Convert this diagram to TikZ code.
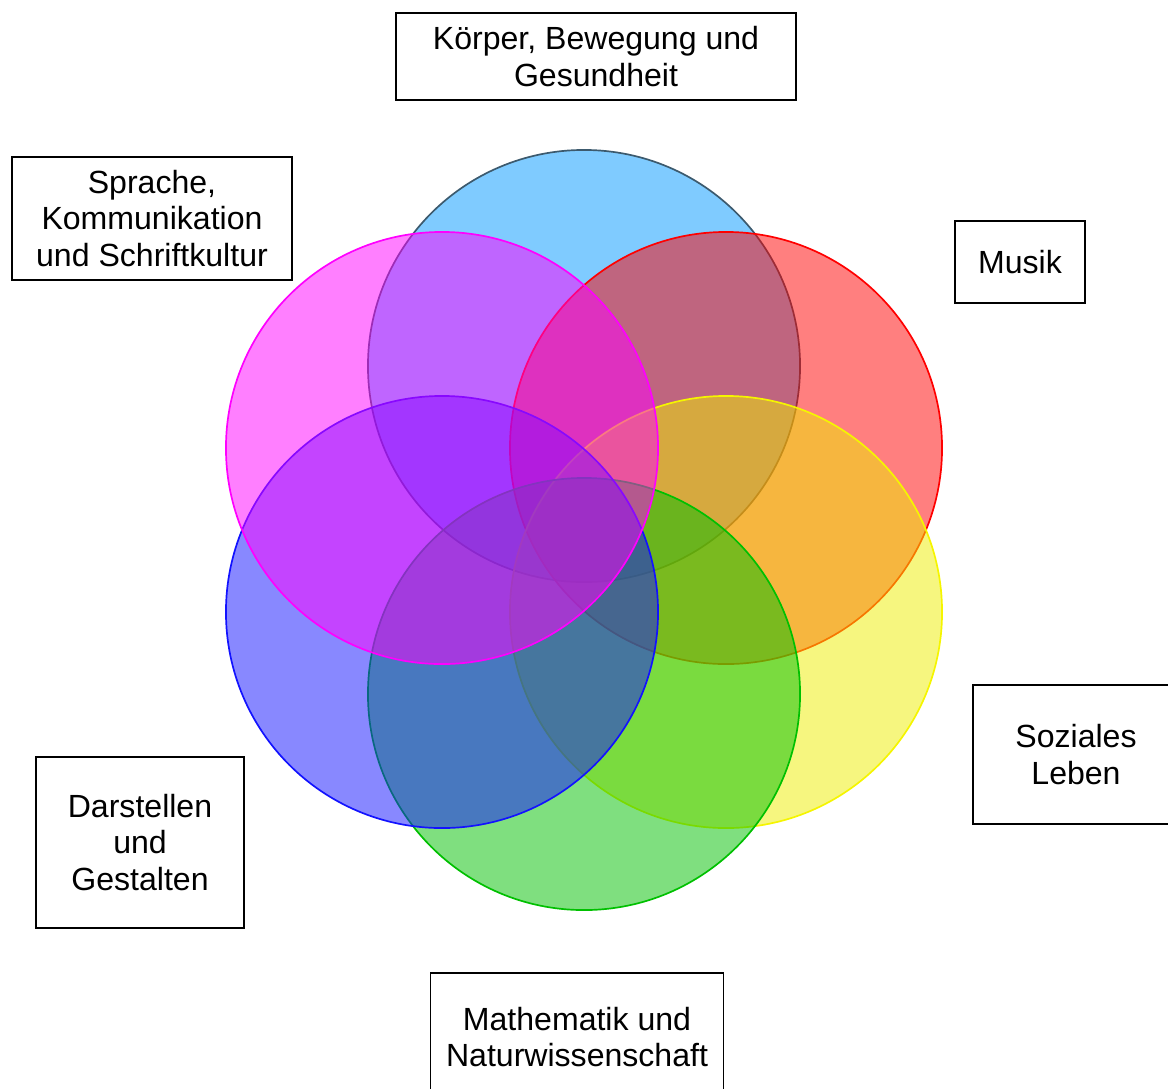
\documentclass[tikz,border=0pt]{standalone}
\usepackage{fontspec}
\setmainfont{Liberation Sans}

\definecolor{skyfill}{RGB}{0,152,255}
\definecolor{skyline}{RGB}{60,90,110}
\definecolor{redfill}{RGB}{255,0,0}
\definecolor{yellowfill}{RGB}{238,238,0}
\definecolor{yellowline}{RGB}{245,245,0}
\definecolor{greenfill}{RGB}{0,192,0}
\definecolor{bluefill}{RGB}{18,18,255}
\definecolor{magentafill}{RGB}{255,0,255}

\begin{document}
\begin{tikzpicture}[x=0.025cm, y=-0.025cm,
    area/.style={draw=black, line width=1.3pt, align=center, inner sep=0pt,
      font=\fontsize{22.8}{25.8}\selectfont},
    petal/.style={fill opacity=0.5, line width=1.2pt}]

    \useasboundingbox (0,0) rectangle (1168,1088);

    % Centres of the six circles (hexagon round (584,530))
    \coordinate (Ck) at (584,366);   % Koerper
    \coordinate (Cm) at (726,448);   % Musik
    \coordinate (Cs) at (726,612);   % Soziales Leben
    \coordinate (Cn) at (584,694);   % Mathematik
    \coordinate (Cd) at (442,612);   % Darstellen
    \coordinate (Cl) at (442,448);   % Sprache

    % Circles, back to front
    \filldraw[petal, fill=skyfill, draw=skyline] (Ck) circle[radius=5.4cm];
    \filldraw[petal, fill=redfill, draw=red] (Cm) circle[radius=5.4cm];
    \filldraw[petal, fill=yellowfill, draw=yellowline] (Cs) circle[radius=5.4cm];
    \filldraw[petal, fill=greenfill, draw=greenfill] (Cn) circle[radius=5.4cm];
    \filldraw[petal, fill=bluefill, draw=bluefill] (Cd) circle[radius=5.4cm];
    \filldraw[petal, fill=magentafill, draw=magentafill] (Cl) circle[radius=5.4cm];

    % Labels of the areas
    \node[area, minimum width=10cm, minimum height=2.175cm] (koerper) at (596,56.5)
        {Körper, Bewegung und\\Gesundheit};
    \node[area, minimum width=7cm, minimum height=3.075cm] (sprache) at (152,218.5)
        {Sprache,\\Kommunikation\\und Schriftkultur};
    \node[area, minimum width=3.25cm, minimum height=2.05cm] (musik) at (1020,262)
        {Musik};
    \node[area, minimum width=5.15cm, minimum height=3.475cm] (soziales) at (1076,754.5)
        {Soziales\\Leben};
    \node[area, minimum width=5.2cm, minimum height=4.275cm] (darstellen) at (140,842.5)
        {Darstellen\\und\\Gestalten};
    \node[area, minimum width=7.325cm, minimum height=3.2cm] (mathe) at (577,1037)
        {Mathematik und\\Naturwissenschaft};

\end{tikzpicture}
\end{document}
